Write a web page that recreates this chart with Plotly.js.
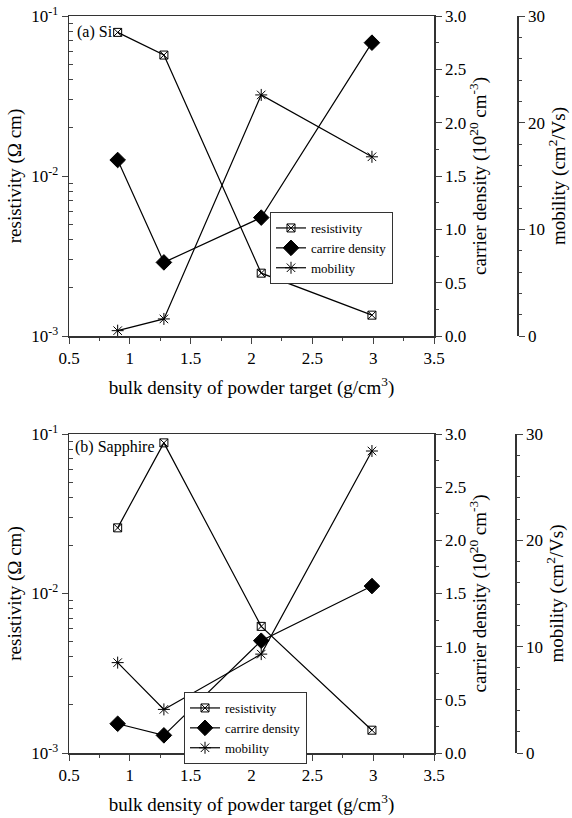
<!DOCTYPE html>
<html>
<head>
<meta charset="utf-8">
<script src="https://cdn.plot.ly/plotly-3.0.1.min.js"></script>
<style>html,body{margin:0;padding:0;background:#fff;}#plot{width:572px;height:818px;}</style>
</head>
<body>
<div id="plot"></div>
<script>
// ---- data ----
const xSi = [0.90, 1.28, 2.08, 2.99];
const resistivitySi = [0.079, 0.057, 0.00247, 0.00135];
const carrierSi = [1.65, 0.69, 1.11, 2.75];
const mobilitySi = [0.5, 1.6, 22.6, 16.8];

const xSapphire = [0.90, 1.28, 2.08, 2.99];
const resistivitySapphire = [0.0258, 0.088, 0.00622, 0.00139];
const carrierSapphire = [0.275, 0.166, 1.056, 1.57];
const mobilitySapphire = [8.5, 4.1, 9.3, 28.4];

const seriesNames = ['resistivity', 'carrire density', 'mobility'];
const panelLabels = ['(a) Si', '(b) Sapphire'];
const logTickVals = [0.001, 0.01, 0.1];
const logTickText = ['10<sup>-3</sup>', '10<sup>-2</sup>', '10<sup>-1</sup>'];

// ---- styling ----
const FONT = 'Liberation Serif';
const W = 572, H = 818;
const px = v => v / W;
const py = v => 1 - v / H;
const mkFont = s => ({family: FONT, size: s, color: '#000'});
const symbols = ['square-x-open', 'diamond', 'asterisk-open'];
const sizes = [8, 12, 10];

function traces(x, ys, xa, yaxes, legend) {
  return ys.map((y, i) => ({
    type: 'scatter', mode: 'lines+markers', x: x, y: y,
    name: seriesNames[i], xaxis: xa, yaxis: yaxes[i], legend: legend,
    line: {color: '#000', width: 1.2},
    marker: {symbol: symbols[i], size: sizes[i], color: '#000', line: {color: '#000', width: 1}}
  }));
}

const data = [].concat(
  traces(xSi, [resistivitySi, carrierSi, mobilitySi], 'x', ['y', 'y2', 'y3'], 'legend'),
  traces(xSapphire, [resistivitySapphire, carrierSapphire, mobilitySapphire], 'x2', ['y4', 'y5', 'y6'], 'legend2')
);

const TICK = 17, TITLE = 19;
const minorLog = [];
[0.001, 0.01].forEach(d => { for (let k = 2; k <= 9; k++) minorLog.push(+(d * k).toPrecision(3)); });

function xAxis(anchor) {
  return {
    domain: [px(69), px(434)], anchor: anchor, range: [0.5, 3.5],
    tickmode: 'linear', tick0: 0.5, dtick: 0.5, ticks: 'outside', ticklen: 6,
    minor: {ticks: 'outside', ticklen: 3, dtick: 0.25, tick0: 0.5},
    showline: true, linecolor: '#333', linewidth: 1.5, mirror: true, showgrid: false, zeroline: false,
    tickfont: mkFont(TICK), automargin: false,
    title: {text: 'bulk density of powder target (g/cm<sup>3</sup>)', font: mkFont(TITLE), standoff: 14}
  };
}
function logAxis(top, bottom) {
  return {
    type: 'log', domain: [py(bottom), py(top)], range: [-3, -1],
    tickmode: 'array', tickvals: logTickVals, ticktext: logTickText,
    ticks: 'outside', ticklen: 6,
    minor: {tickmode: 'array', tickvals: minorLog, ticks: 'inside', ticklen: 4},
    showline: true, linecolor: '#333', linewidth: 1.5, showgrid: false, zeroline: false,
    tickfont: mkFont(TICK), automargin: false,
    title: {text: 'resistivity (Ω cm)', font: mkFont(TITLE), standoff: 4}
  };
}
function carrierAxis(over, anchorX) {
  return {
    overlaying: over, side: 'right', anchor: anchorX, range: [0, 3],
    tickmode: 'linear', tick0: 0, dtick: 0.5, tickformat: '.1f', ticks: 'outside', ticklen: 6,
    minor: {ticks: 'outside', ticklen: 3, dtick: 0.25},
    showline: true, linecolor: '#333', linewidth: 1.5, showgrid: false, zeroline: false,
    tickfont: mkFont(TICK), automargin: false,
    title: {text: 'carrier density (10<sup>20</sup> cm<sup>-3</sup>)', font: mkFont(TITLE), standoff: 6}
  };
}
function mobilityAxis(over, posX) {
  return {
    overlaying: over, side: 'right', anchor: 'free', position: px(posX), range: [0, 30],
    tickmode: 'linear', tick0: 0, dtick: 10, ticks: 'outside', ticklen: 6,
    minor: {ticks: 'outside', ticklen: 3, dtick: 2},
    showline: true, linecolor: '#333', linewidth: 1.5, showgrid: false, zeroline: false,
    tickfont: mkFont(TICK), automargin: false,
    title: {text: 'mobility (cm<sup>2</sup>/Vs)', font: mkFont(TITLE), standoff: 8}
  };
}
function legendAt(x, y) {
  return {x: px(x), y: py(y), xanchor: 'left', yanchor: 'top', bgcolor: '#fff', bordercolor: '#333', borderwidth: 1, font: mkFont(13)};
}

const layout = {
  width: W, height: H, margin: {l: 0, r: 0, t: 0, b: 0}, showlegend: true,
  font: {family: FONT, color: '#000', size: 14},
  xaxis: xAxis('y'),
  yaxis: logAxis(16, 336),
  yaxis2: carrierAxis('y', 'x'),
  yaxis3: mobilityAxis('y', 517),
  xaxis2: xAxis('y4'),
  yaxis4: logAxis(434, 753),
  yaxis5: carrierAxis('y4', 'x2'),
  yaxis6: mobilityAxis('y4', 515),
  legend: legendAt(270, 212),
  legend2: legendAt(184, 692),
  annotations: [
    {text: panelLabels[0], xref: 'paper', yref: 'paper', x: px(75), y: py(32), xanchor: 'left', yanchor: 'middle', showarrow: false, font: mkFont(16)},
    {text: panelLabels[1], xref: 'paper', yref: 'paper', x: px(73), y: py(447), xanchor: 'left', yanchor: 'middle', showarrow: false, font: mkFont(16)}
  ]
};

Plotly.newPlot('plot', data, layout, {displayModeBar: false, staticPlot: true});
</script>
</body>
</html>
